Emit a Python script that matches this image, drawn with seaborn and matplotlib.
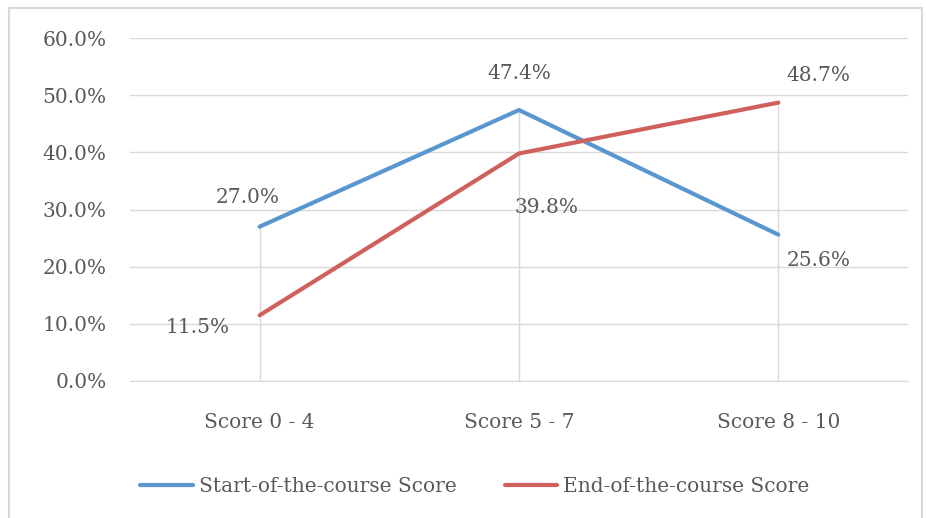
import matplotlib
matplotlib.use("Agg")
import matplotlib.pyplot as plt
from matplotlib.patches import Rectangle
import seaborn as sns
import pandas as pd

categories = ["Score 0 - 4", "Score 5 - 7", "Score 8 - 10"]
start_scores = [27.0, 47.4, 25.6]
end_scores = [11.5, 39.8, 48.7]
series_names = ["Start-of-the-course Score", "End-of-the-course Score"]
colors = ["#5b97cf", "#d0605c"]

# label offsets in pixels relative to each point
start_offsets = [(-12, 29), (0, 37), (40, -26)]
end_offsets = [(-62, -12), (28, -54), (40, 27)]

TEXT = "#595959"
GRID = "#d9d9d9"
FS = 14.5

sns.set_style("white")
plt.rcParams["font.family"] = ["DejaVu Serif"]

df = pd.DataFrame({
    "category": categories * 2,
    "x": list(range(len(categories))) * 2,
    "value": start_scores + end_scores,
    "series": [series_names[0]] * 3 + [series_names[1]] * 3,
})

fig = plt.figure(figsize=(9.26, 5.18), dpi=100)
ax = fig.add_axes([130 / 926, 1 - 381 / 518, 778 / 926, 343 / 518])

# drop lines from zero to the highest point in each category
tops = [max(a, b) for a, b in zip(start_scores, end_scores)]
ax.vlines(range(len(categories)), 0, tops, color=GRID, lw=1, zorder=1)

sns.lineplot(data=df, x="x", y="value", hue="series", palette=colors,
             hue_order=series_names, lw=3, ax=ax, legend=False, zorder=3)

for vals, offs in [(start_scores, start_offsets), (end_scores, end_offsets)]:
    for i, (v, o) in enumerate(zip(vals, offs)):
        ax.annotate(f"{v:.1f}%", (i, v), xytext=o, textcoords="offset pixels",
                    ha="center", va="center", fontsize=FS, color=TEXT)

ax.set_xlim(-0.5, 2.5)
ax.set_ylim(0, 60)
ax.set_yticks(range(0, 61, 10))
ax.set_yticklabels([f"{t:.1f}%" for t in range(0, 61, 10)])
ax.set_xticks(range(len(categories)))
ax.set_xticklabels(categories)
ax.tick_params(axis="y", length=0, pad=17, labelsize=FS, labelcolor=TEXT)
ax.tick_params(axis="x", length=0, pad=23, labelsize=FS, labelcolor=TEXT)
ax.yaxis.grid(True, color=GRID, lw=1)
ax.set_axisbelow(True)
for s in ["top", "right", "left"]:
    ax.spines[s].set_visible(False)
ax.spines["bottom"].set_color(GRID)
ax.set_xlabel("")
ax.set_ylabel("")

handles = [plt.Line2D([], [], color=c, lw=3) for c in colors]
fig.legend(handles, series_names, loc="center", bbox_to_anchor=(0.513, 1 - 487 / 518),
           ncol=2, frameon=False, fontsize=FS, labelcolor=TEXT,
           handlelength=2.6, handletextpad=0.3, columnspacing=2.4)

fig.patches.append(Rectangle((9 / 926, -0.01), 913 / 926, 1 - 8 / 518 + 0.01,
                             transform=fig.transFigure, fill=False,
                             edgecolor=GRID, lw=1.5))

fig.savefig("out.png", dpi=100)
